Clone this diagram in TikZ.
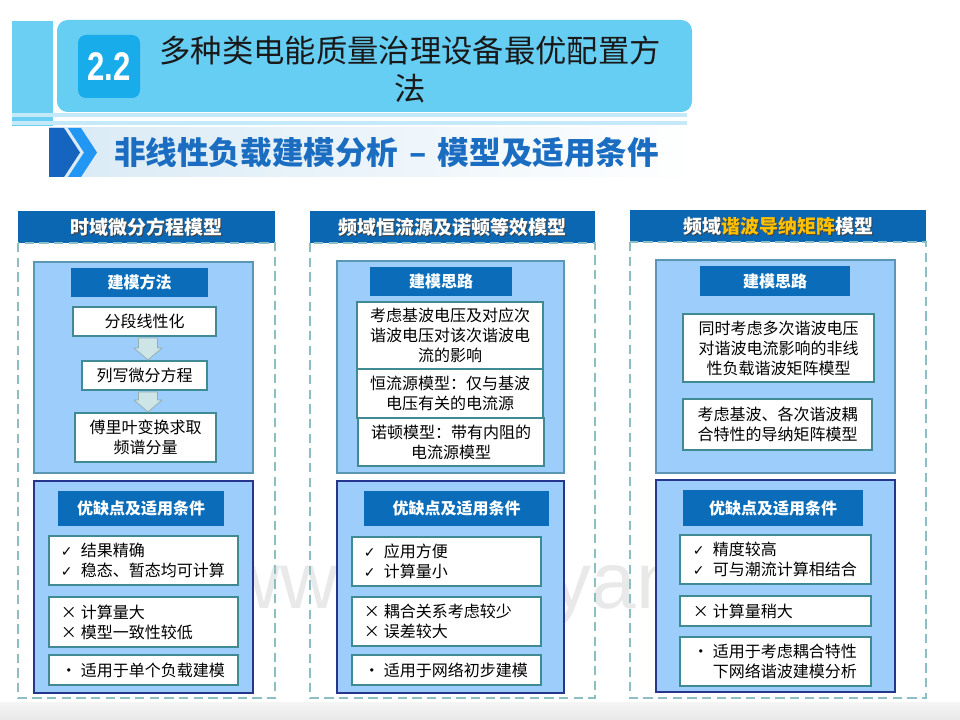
\documentclass[tikz,border=0pt]{standalone}
\usepackage{fontspec}
\setmainfont{Noto Sans CJK SC}
\newfontfamily\dejavu{DejaVu Sans}
\newfontfamily\libsans{Liberation Sans}
\usetikzlibrary{calc}
\definecolor{hdrblue}{HTML}{0B67B2}
\definecolor{lblblue}{HTML}{0B6DB9}
\definecolor{panel}{HTML}{9CCDFB}
\definecolor{tealc}{HTML}{3F8A93}
\definecolor{dashc}{HTML}{8DBEC3}
\definecolor{titlebg}{HTML}{66CDF3}
\definecolor{barbg}{HTML}{6ACFF3}
\definecolor{stripe}{HTML}{C4E9F8}
\definecolor{badge}{HTML}{18ACEB}
\definecolor{subblue}{HTML}{1A6DC0}
\definecolor{chevdark}{HTML}{1565C0}
\definecolor{chevlight}{HTML}{2196F3}
\definecolor{bandc}{HTML}{D9EAF5}
\definecolor{gold}{HTML}{FFC000}
\definecolor{navy}{HTML}{25368C}
\definecolor{panelline}{HTML}{5B97B5}
\definecolor{arrowfill}{HTML}{CDE5E7}
\definecolor{arrowline}{HTML}{95AFB1}
\definecolor{wmark}{HTML}{E9E9E9}
\newcommand\itm[2]{{\hangindent=15pt\hangafter=1\noindent\makebox[15pt][l]{#1}#2\par}}
\newcommand\ck{{\dejavu\fontsize{10.5}{10}\selectfont ✓}}
\newcommand\xx{×}
\newcommand\bu{•}
\newcommand\lst[1]{\parbox{124pt}{\raggedright #1}}
% box: style, x1, y1, x2, y2, name, text  (pixel coordinates)
\newcommand\bx[7]{\node[#1, minimum width={(#4-#2)*0.75pt}, minimum height={(#5-#3)*0.75pt}] (#6) at ({(#2+#4)/2},{(#3+#5)/2}) {#7};}
\tikzset{
  every node/.style={inner sep=0pt, outer sep=0pt},
  colhdr/.style={fill=hdrblue, draw=none},
  hdrtxt/.style={text=white, font=\fontsize{14.25}{16}\selectfont\bfseries},
  hdrshadow/.style={text=black!75, font=\fontsize{14.25}{16}\selectfont\bfseries},
  dashbox/.style={draw=dashc, line width=1.4pt, dash pattern=on 7pt off 4pt},
  panelA/.style={fill=panel, draw=panelline, line width=0.8pt},
  panelB/.style={fill=panel, draw=navy, line width=0.9pt},
  lbl/.style={fill=lblblue, text=white, font=\fontsize{12}{14}\selectfont\bfseries},
  wbox/.style={fill=white, draw=tealc, line width=2.2pt, font=\fontsize{12}{15}\selectfont, align=center},
  blk/.style={fill=arrowfill, draw=arrowline, line width=0.6pt},
}
\begin{document}
\begin{tikzpicture}[x=0.75pt,y=-0.75pt]
\useasboundingbox (0,0) rectangle (960,720);
\fill[white] (0,0) rectangle (960,720);

% watermark
\node[anchor=base west, text=wmark, font=\libsans\fontsize{60}{60}\selectfont] (wm) at (165,608) {www.nidunyan.com};

% ---------- header ----------
\fill[barbg] (12,21) rectangle (53,126);
\fill[titlebg, rounded corners=8pt] (57,20) rectangle (692,112);
\fill[stripe] (12,113) rectangle (687,117);
\fill[stripe] (12,121) rectangle (687,125);
\bx{fill=badge, rounded corners=6pt}{78}{35}{140}{98}{badge}{}
\node[text=white, font=\libsans\bfseries\fontsize{30}{30}\selectfont] (badgetxt) at (badge.center) {\scalebox{0.78}[1]{2.2}};
\node[align=center, text=black!90, font=\fontsize{23.5}{28.5}\selectfont] (title) at (410,69) {多种类电能质量治理设备最优配置方\\法};

% subtitle band
\shade[left color=bandc, right color=white] (49,128) rectangle (700,177);
\fill[chevdark] (49,128) -- (64,128) -- (80,152.5) -- (64,177) -- (49,177) -- cycle;
\fill[chevlight] (68,128) -- (81,128) -- (97,152.5) -- (81,177) -- (68,177) -- (84,152.5) -- cycle;
\node[anchor=west, text=subblue, font=\fontsize{23.7}{25}\selectfont\bfseries] (subtitle) at (114,153) {非线性负载建模分析\hspace{0.35em}–\hspace{0.35em}模型及适用条件};

% ---------- column 1 ----------
\bx{colhdr}{18}{211}{275}{243}{h1}{}
\node[hdrshadow] (h1s) at ($(h1.center)+(1.2,1.2)$) {时域微分方程模型};
\node[hdrtxt] (h1t) at (h1.center) {时域微分方程模型};
\draw[dashbox] (18,243) rectangle (275,698);

\bx{panelA}{34}{262}{253}{473}{p1}{}
\bx{lbl}{71}{268}{208}{297}{l1}{建模方法}
\bx{wbox}{73}{307}{216}{336}{s1}{分段线性化}
\bx{wbox}{82}{361}{207}{390}{s2}{列写微分方程}
\bx{wbox}{75}{413}{216}{462}{s3}{傅里叶变换求取\\频谱分量}
\draw[blk] ($(s1.south)+(-6,2)$) -- ($(s1.south)+(13,2)$) -- ($(s2.north)+(13,-13)$) -- ($(s2.north)+(17.5,-13)$) -- ($(s2.north)+(3.5,-1)$) -- ($(s2.north)+(-10.5,-13)$) -- ($(s2.north)+(-6,-13)$) -- cycle;
\draw[blk] ($(s2.south)+(-6,2)$) -- ($(s2.south)+(13,2)$) -- ($(s3.north)+(12,-13)$) -- ($(s3.north)+(16.5,-13)$) -- ($(s3.north)+(2.5,-1)$) -- ($(s3.north)+(-11.5,-13)$) -- ($(s3.north)+(-7,-13)$) -- cycle;

\bx{panelB}{34}{481}{253}{693}{p2}{}
\bx{lbl}{58}{491}{224}{526}{l2}{优缺点及适用条件}
\bx{wbox}{49}{536}{238}{585}{a1}{\lst{\itm{\ck}{结果精确}\itm{\ck}{稳态、暂态均可计算}}}
\bx{wbox}{49}{597}{238}{647}{b1}{\lst{\itm{\xx}{计算量大}\itm{\xx}{模型一致性较低}}}
\bx{wbox}{49}{655}{238}{685}{c1}{\lst{\itm{\bu}{适用于单个负载建模}}}

% ---------- column 2 ----------
\bx{colhdr}{310}{211}{595}{243}{h2}{}
\node[hdrshadow] (h2s) at ($(h2.center)+(1.2,1.2)$) {频域恒流源及诺顿等效模型};
\node[hdrtxt] (h2t) at (h2.center) {频域恒流源及诺顿等效模型};
\draw[dashbox] (310,243) rectangle (595,698);

\bx{panelA}{337}{261}{564}{473}{p3}{}
\bx{lbl}{370}{267}{512}{296}{l3}{建模思路}
\bx{wbox}{357}{302}{543}{369}{m1}{考虑基波电压及对应次\\谐波电压对该次谐波电\\流的影响}
\bx{wbox}{357}{369}{543}{418}{m2}{恒流源模型：仅与基波\\电压有关的电流源}
\bx{wbox}{358}{418}{544}{466}{m3}{诺顿模型：带有内阻的\\电流源模型}

\bx{panelB}{337}{481}{564}{693}{p4}{}
\bx{lbl}{364}{491}{549}{526}{l4}{优缺点及适用条件}
\bx{wbox}{352}{537}{541}{586}{a2}{\lst{\itm{\ck}{应用方便}\itm{\ck}{计算量小}}}
\bx{wbox}{352}{597}{541}{646}{b2}{\lst{\itm{\xx}{耦合关系考虑较少}\itm{\xx}{误差较大}}}
\bx{wbox}{352}{655}{541}{685}{c2}{\lst{\itm{\bu}{适用于网络初步建模}}}

% ---------- column 3 ----------
\bx{colhdr}{630}{210}{926}{242}{h3}{}
\node[hdrshadow] (h3s) at ($(h3.center)+(1.2,1.2)$) {频域谐波导纳矩阵模型};
\node[hdrtxt] (h3t) at (h3.center) {频域\textcolor{gold}{谐波导纳矩阵}模型};
\draw[dashbox] (630,242) rectangle (926,698);

\bx{panelA}{656}{260}{895}{473}{p5}{}
\bx{lbl}{700}{266}{850}{296}{l5}{建模思路}
\bx{wbox}{683}{314}{874}{382}{n1}{同时考虑多次谐波电压\\对谐波电流影响的非线\\性负载谐波矩阵模型}
\bx{wbox}{683}{399}{872}{450}{n2}{考虑基波、各次谐波耦\\合特性的导纳矩阵模型}

\bx{panelB}{656}{480}{895}{692}{p6}{}
\bx{lbl}{683}{490}{863}{526}{l6}{优缺点及适用条件}
\bx{wbox}{680}{535}{871}{584}{a3}{\lst{\itm{\ck}{精度较高}\itm{\ck}{可与潮流计算相结合}}}
\bx{wbox}{680}{596}{871}{626}{b3}{\lst{\itm{\xx}{计算量稍大}}}
\bx{wbox}{680}{637}{871}{686}{c3}{\lst{\itm{\bu}{适用于考虑耦合特性\newline 下网络谐波建模分析}}}

% bottom band
\shade[top color=gray!8, bottom color=gray!18] (0,702) rectangle (960,720);
\end{tikzpicture}
\end{document}
